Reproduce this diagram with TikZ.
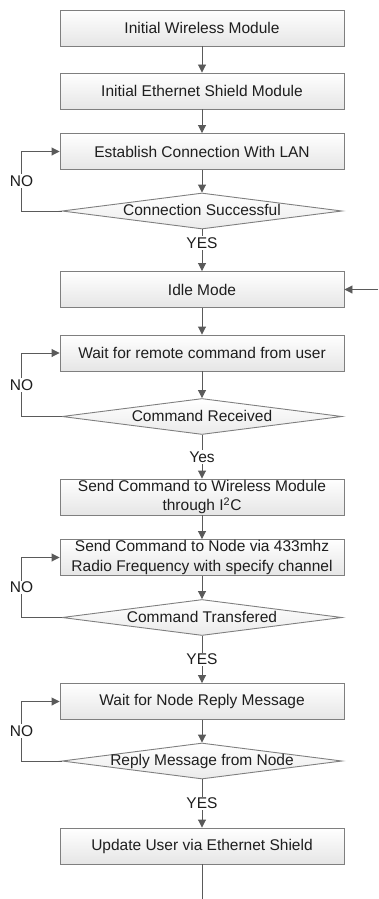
\documentclass[tikz,border=0pt]{standalone}
\usepackage{fontspec}
\setmainfont{Liberation Sans}
\usetikzlibrary{shapes.geometric,arrows.meta}
\definecolor{linegray}{HTML}{5A5A5A}
\definecolor{edgegray}{HTML}{7F7F7F}
\definecolor{textgray}{HTML}{1E1E1E}
\tikzset{
    every node/.style={text=textgray, font=\fontsize{15.5}{19.5}\selectfont},
    stepbox/.style={rectangle, draw=edgegray, line width=0.9pt, top color=white, bottom color=black!10,
        minimum width=284, minimum height=36, inner sep=0pt, align=center},
    decision/.style={diamond, draw=edgegray, line width=0.9pt, top color=white, bottom color=black!8,
        aspect=7.8, minimum width=280, minimum height=36, inner sep=0pt, text height=9pt, text depth=0pt},
    flow/.style={draw=linegray, line width=0.9pt},
    flowarrow/.style={flow, -{Triangle[length=8pt,width=8pt]}},
    answer/.style={fill=white, inner sep=1.5pt}
}
\begin{document}
\begin{tikzpicture}[x=1pt,y=-1pt]
                \def\cx{202};
                \useasboundingbox (0,0) rectangle (378,899);
                \node[stepbox] (init) at (\cx,28) {Initial Wireless Module};
                \node[stepbox] (eth) at (\cx,91) {Initial Ethernet Shield Module};
                \node[stepbox] (lan) at (\cx,151.5) {Establish Connection With LAN};
                \node[decision] (conn) at (\cx,211) {Connection Successful};
                \node[stepbox] (idle) at (\cx,289.5) {Idle Mode};
                \node[stepbox] (wait) at (\cx,353) {Wait for remote command from user};
                \node[decision] (recv) at (\cx,416.5) {Command Received};
                \node[stepbox] (sendw) at (\cx,497) {Send Command to Wireless Module\\through I\textsuperscript{2}C};
                \node[stepbox] (sendn) at (\cx,557.5) {Send Command to Node via 433mhz\\Radio Frequency with specify channel};
                \node[decision] (trans) at (\cx,617.5) {Command Transfered};
                \node[stepbox] (reply) at (\cx,701.5) {Wait for Node Reply Message};
                \node[decision] (rmsg) at (\cx,761) {Reply Message from Node};
                \node[stepbox] (upd) at (\cx,846) {Update User via Ethernet Shield};
                \coordinate (idlein) at (378,289.5);
                \coordinate (updout) at (\cx,899);
                \foreach \a/\b in {init/eth,eth/lan,lan/conn,idle/wait,wait/recv,sendw/sendn,sendn/trans,reply/rmsg}
                    \draw[flowarrow] (\a) -- (\b);
                \draw[flowarrow] (conn) -- node[answer,pos=0.33]{YES} (idle);
                \draw[flowarrow] (recv) -- node[answer]{Yes} (sendw);
                \draw[flowarrow] (trans) -- node[answer]{YES} (reply);
                \draw[flowarrow] (rmsg) -- node[answer]{YES} (upd);
                \foreach \d/\s in {conn/lan,recv/wait,trans/sendn,rmsg/reply}
                    \draw[flowarrow] (\d.west) -- ++(-40,0) |- node[answer,pos=0.25]{NO} (\s.west);
                \draw[flowarrow] (idlein) -- (idle.east);
                \draw[flow] (upd) -- (updout);
            \end{tikzpicture}
\end{document}
